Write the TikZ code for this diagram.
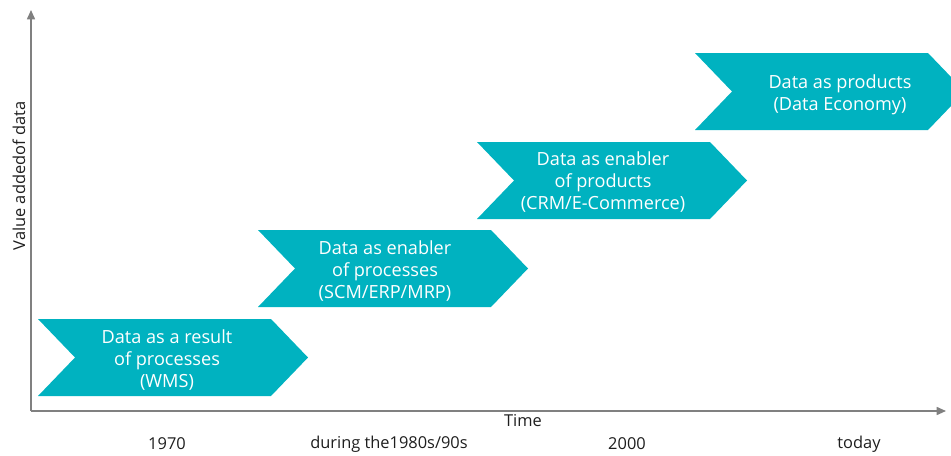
\documentclass[tikz,border=0pt]{standalone}
\usepackage{fontspec}
\setmainfont{Open Sans}
\usetikzlibrary{arrows.meta}
\definecolor{chevteal}{HTML}{00B2C0}
\definecolor{axisgray}{HTML}{808080}
\definecolor{txtdark}{HTML}{1E1E1E}
\tikzset{
  chevbox/.pic={\fill[chevteal] (0,0) -- (233,0) -- (270,-38.5) -- (233,-77) -- (0,-77) -- (37,-38.5) -- cycle;},
  chevtext/.style={text=white, align=center, font=\fontsize{13.6}{16.5}\selectfont, inner sep=0pt},
  axislabel/.style={text=txtdark, font=\fontsize{12.3}{14}\selectfont, inner sep=0pt},
  axisline/.style={draw=axisgray, line width=1.2pt, -{Triangle[length=7pt,width=6pt]}}
}
\begin{document}
\begin{tikzpicture}[x=0.75pt,y=0.75pt]
\useasboundingbox (0,0) rectangle (951,455);
% axes
\coordinate (origin) at (31,44);
\coordinate (ytip) at (31,445);
\coordinate (xtip) at (946,44);
\draw[axisline] (origin) -- (ytip);
\draw[axisline] (origin) -- (xtip);
% chevrons
\pic at (38,136) {chevbox};
\pic at (258,225) {chevbox};
\pic at (477,313) {chevbox};
\pic at (695,402) {chevbox};
\node[chevtext] (c1) at (167,95) {Data as a result\\of processes\\(WMS)};
\node[chevtext] (c2) at (385,184) {Data as enabler\\of processes\\(SCM/ERP/MRP)};
\node[chevtext] (c3) at (603,273) {Data as enabler\\of products\\(CRM/E-Commerce)};
\node[chevtext] (c4) at (840,360) {Data as products\\(Data Economy)};
% labels
\node[axislabel, rotate=90] (ylab) at (19,279) {Value addedof data};
\node[axislabel] (time) at (523,34) {Time};
\node[axislabel] (t1) at (167,11) {1970};
\node[axislabel] (t2) at (389,11) {during the1980s/90s};
\node[axislabel] (t3) at (627,11) {2000};
\node[axislabel] (t4) at (859,11) {today};
\end{tikzpicture}
\end{document}
